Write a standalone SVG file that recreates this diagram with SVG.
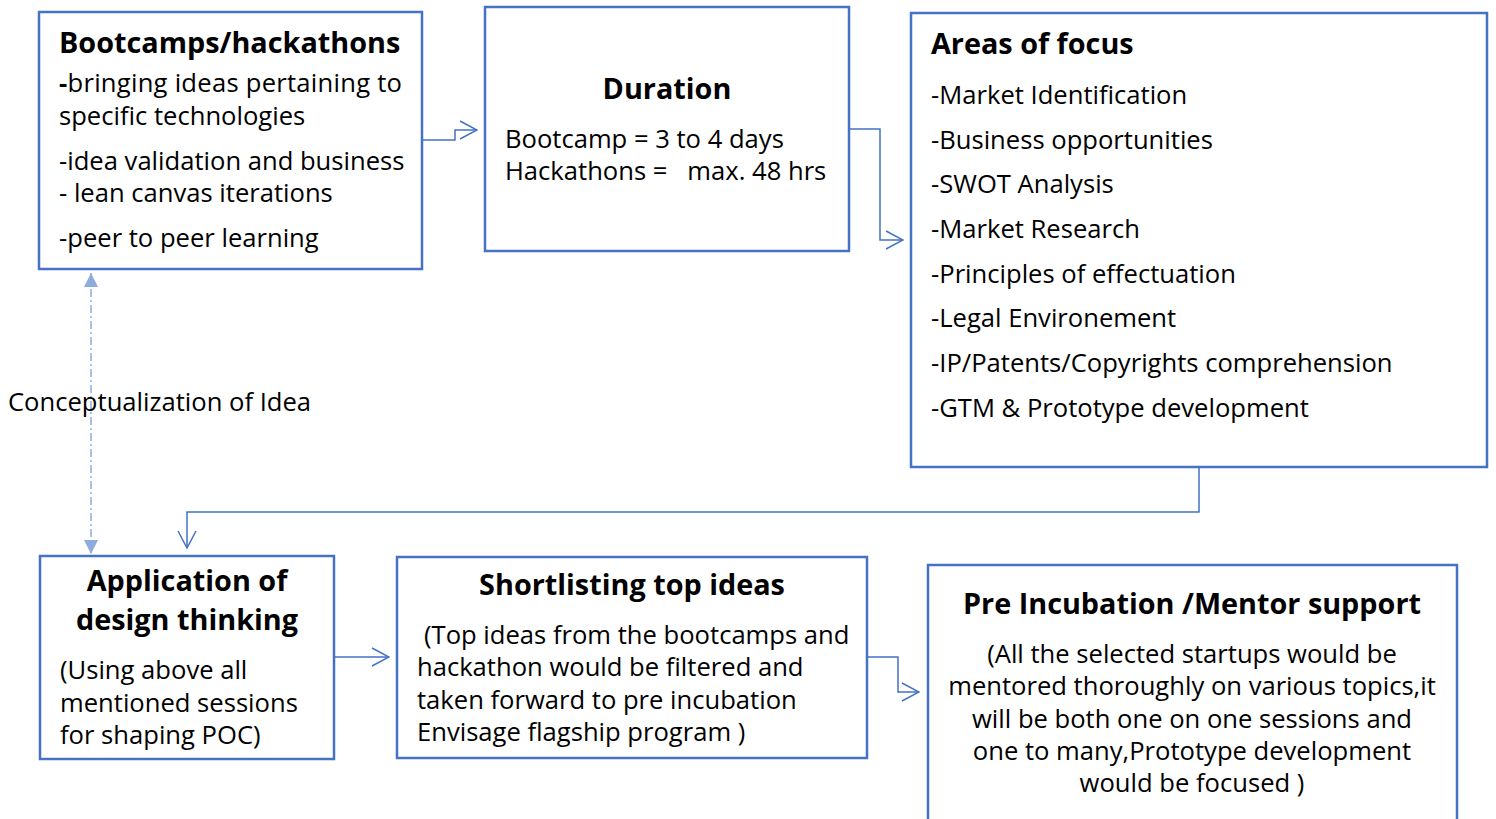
<svg xmlns="http://www.w3.org/2000/svg" width="1496" height="819" viewBox="0 0 1496 819">
<defs>
<style>
.box{fill:#fff;stroke:#4472C4;stroke-width:2.5}
.t{font-family:"Open Sans","Liberation Sans",sans-serif;font-size:25.6px;fill:#000}
.b{font-family:"Open Sans","Liberation Sans",sans-serif;font-size:28.8px;font-weight:bold;fill:#000}
.c{text-anchor:middle}
.con{fill:none;stroke:#4472C4;stroke-width:1.5}
.dd{fill:none;stroke:#8FAADC;stroke-width:1.5;stroke-dasharray:8 3 2 3}
</style>
<marker id="chev" viewBox="0 0 20 20" refX="19" refY="10" markerWidth="20" markerHeight="20" markerUnits="userSpaceOnUse" orient="auto">
<path d="M2 1 L19 10 L2 19" fill="none" stroke="#4472C4" stroke-width="1.5"/>
</marker>
<marker id="tri" viewBox="0 0 16 16" refX="15" refY="8" markerWidth="16" markerHeight="16" markerUnits="userSpaceOnUse" orient="auto-start-reverse">
<path d="M1 1 L15 8 L1 15 Z" fill="#8FAADC"/>
</marker>
</defs>
<rect width="1496" height="819" fill="#fff"/>
<g id="connectors">
<path class="con" d="M422 140 H455 V130 H477" marker-end="url(#chev)"/>
<path class="con" d="M849 129 H880 V240 H903" marker-end="url(#chev)"/>
<path class="con" d="M1199 467 V512 H187 V548" marker-end="url(#chev)"/>
<path class="con" d="M334 657 H389" marker-end="url(#chev)"/>
<path class="con" d="M867 657 H898 V692 H919" marker-end="url(#chev)"/>
<path class="dd" d="M91 273 V554" marker-start="url(#tri)" marker-end="url(#tri)"/>
</g>
<g id="node-bootcamps">
<rect class="box" x="39" y="12" width="383" height="257"/>
<text class="b" x="59" y="53">Bootcamps/hackathons</text>
<text class="t" x="59" y="92" textLength="343" lengthAdjust="spacing"><tspan font-weight="bold">-</tspan>bringing ideas pertaining to</text>
<text class="t" x="59" y="125">specific technologies</text>
<text class="t" x="59" y="170">-idea validation and business</text>
<text class="t" x="59" y="202">- lean canvas iterations</text>
<text class="t" x="59" y="247">-peer to peer learning</text>
</g>
<g id="node-duration">
<rect class="box" x="485" y="7" width="364" height="244"/>
<text class="b c" x="667" y="99">Duration</text>
<text class="t" x="505" y="148">Bootcamp = 3 to 4 days</text>
<text class="t" x="505" y="180" xml:space="preserve">Hackathons =   max. 48 hrs</text>
</g>
<g id="node-areas">
<rect class="box" x="911" y="13" width="576" height="454"/>
<text class="b" x="931" y="54">Areas of focus</text>
<text class="t" x="931" y="104">-Market Identification</text>
<text class="t" x="931" y="149">-Business opportunities</text>
<text class="t" x="931" y="193">-SWOT Analysis</text>
<text class="t" x="931" y="238">-Market Research</text>
<text class="t" x="931" y="283">-Principles of effectuation</text>
<text class="t" x="931" y="327">-Legal Environement</text>
<text class="t" x="931" y="372">-IP/Patents/Copyrights comprehension</text>
<text class="t" x="931" y="417">-GTM &amp; Prototype development</text>
</g>
<g id="label-concept">
<text class="t" x="8" y="411">Conceptualization of Idea</text>
</g>
<g id="node-design">
<rect class="box" x="40" y="556" width="294" height="203"/>
<text class="b c" x="187" y="591">Application of</text>
<text class="b c" x="187" y="630">design thinking</text>
<text class="t" x="60" y="679">(Using above all</text>
<text class="t" x="60" y="712">mentioned sessions</text>
<text class="t" x="60" y="744">for shaping POC)</text>
</g>
<g id="node-shortlisting">
<rect class="box" x="397" y="557" width="470" height="201"/>
<text class="b c" x="632" y="595">Shortlisting top ideas</text>
<text class="t" x="424" y="644">(Top ideas from the bootcamps and</text>
<text class="t" x="417" y="676">hackathon would be filtered and</text>
<text class="t" x="417" y="709">taken forward to pre incubation</text>
<text class="t" x="417" y="741">Envisage flagship program )</text>
</g>
<g id="node-preincubation">
<rect class="box" x="928" y="565" width="529" height="270"/>
<text class="b c" x="1192" y="614">Pre Incubation /Mentor support</text>
<text class="t c" x="1192" y="663">(All the selected startups would be</text>
<text class="t c" x="1192" y="695">mentored thoroughly on various topics,it</text>
<text class="t c" x="1192" y="728">will be both one on one sessions and</text>
<text class="t c" x="1192" y="760">one to many,Prototype development</text>
<text class="t c" x="1192" y="792">would be focused )</text>
</g>
</svg>
